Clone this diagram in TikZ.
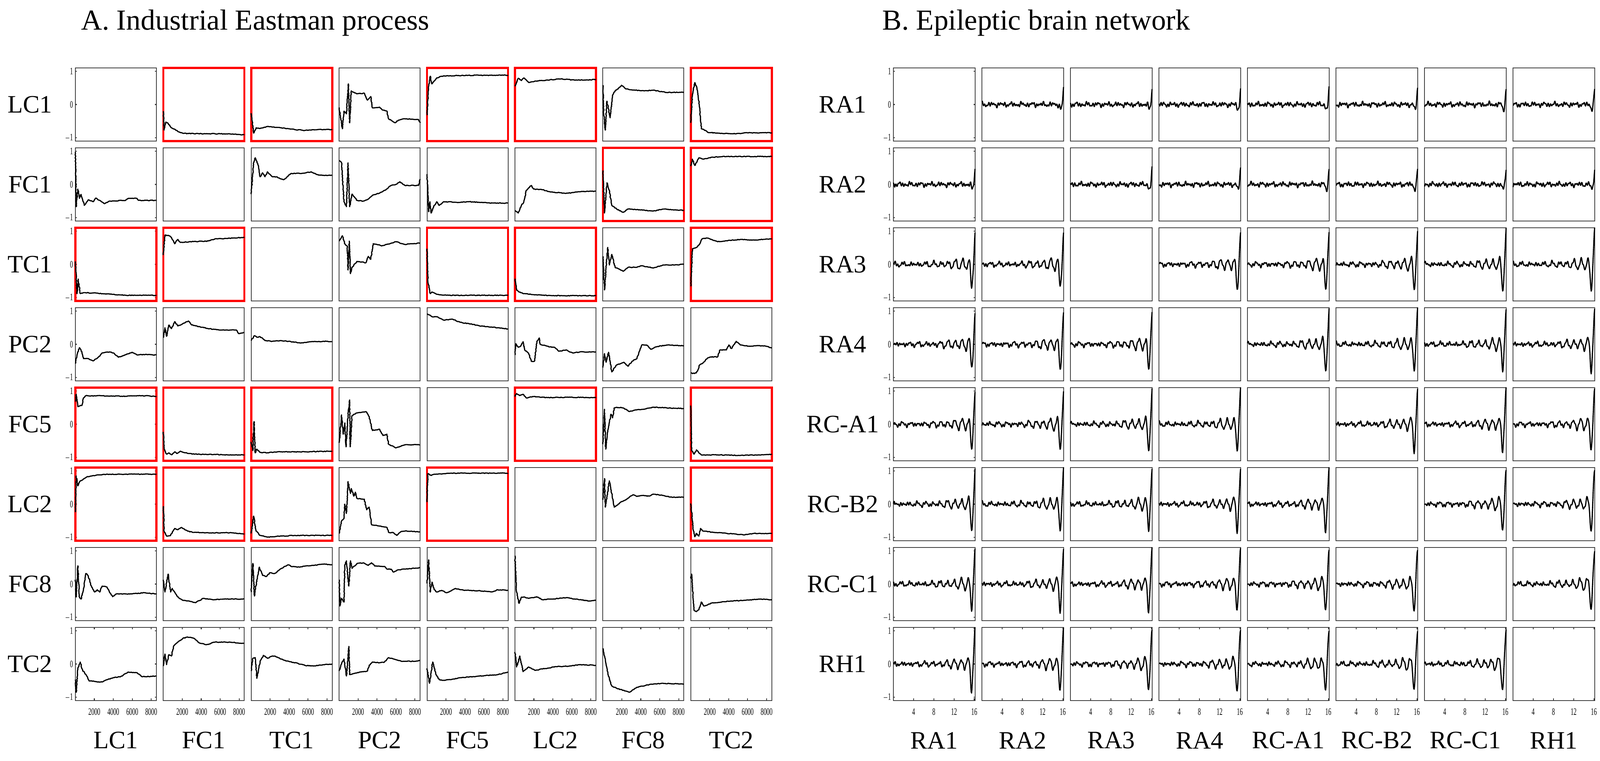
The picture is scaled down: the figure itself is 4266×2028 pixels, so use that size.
\documentclass[tikz,border=0pt]{standalone}
\usepackage{fontspec}
\setmainfont{Liberation Serif}
\usetikzlibrary{decorations.pathmorphing}
\definecolor{boxgray}{HTML}{333333}
\definecolor{redbox}{HTML}{FF0000}
\tikzset{
  box/.style={draw=boxgray,line width=0.6pt},
  redframe/.style={draw=redbox,line width=1.6pt},
  curve/.style={black,line width=0.9pt,line join=round,decorate,decoration={random steps,segment length=0.8pt,amplitude=0.25pt}},
  eegc/.style={black,line width=0.9pt,line join=round},
  lab/.style={font=\fontsize{19}{19}\selectfont},
  ttl/.style={font=\fontsize{22}{22}\selectfont,anchor=base west},
  tick/.style={font=\fontsize{7.5}{8}\selectfont,xscale=0.6,inner sep=0pt},
}
\newcommand\LC[3]{\begin{scope}[shift={(201+234.4*#1,278.5+213*#2)},x=2.16cm,y=0.886cm]
\draw[curve] plot coordinates {#3};\end{scope}}
\newcommand\EEG[3]{\begin{scope}[shift={(2382+236*#1,278.5+213*#2)},x=2.18cm,y=0.886cm]
\draw[eegc] plot[domain=0:1,samples=190,variable=\t] ({\t},{#3});\end{scope}}
\begin{document}
\begin{tikzpicture}[x=0.01cm,y=-0.01cm]
\useasboundingbox (0,0) rectangle (4266,2028);
\node[ttl] (ta) at (204,80) {A. Industrial Eastman process};
\node[ttl] (tb) at (2340,80) {B. Epileptic brain network};
% boxes
\foreach \i in {0,...,7}{\foreach \j in {0,...,7}{
  \draw[box] (201+234.4*\i,181+213*\j) rectangle ++(216,195);
  \draw[box] (2382+236*\i,181+213*\j) rectangle ++(218,195);
}}
% labels
\foreach \n [count=\k from 0] in {LC1,FC1,TC1,PC2,FC5,LC2,FC8,TC2}{
  \node[lab] (rl\k) at (80,278.5+213*\k) {\n};
  \node[lab] (cl\k) at (309+234.4*\k,1973) {\n};
}
\foreach \n [count=\k from 0] in {RA1,RA2,RA3,RA4,RC-A1,RC-B2,RC-C1,RH1}{
  \node[lab] (rr\k) at (2247,278.5+213*\k) {\n};
  \node[lab] (cr\k) at (2491+236*\k,1973) {\n};
}
% y ticks
\foreach \j in {0,...,7}{
  \foreach \v/\t in {1/1,0/0,-1/$-$1}{
    \node[tick,anchor=east] at (195,278.5+213*\j-88.6*\v) {\t};
    \draw[box] (201,278.5+213*\j-88.6*\v) -- ++(4,0);
    \draw[box] (417,278.5+213*\j-88.6*\v) -- ++(-4,0);
    \node[tick,anchor=east] at (2376,278.5+213*\j-88.6*\v) {\t};
    \draw[box] (2382,278.5+213*\j-88.6*\v) -- ++(4,0);
    \draw[box] (2600,278.5+213*\j-88.6*\v) -- ++(-4,0);
  }
}
% x ticks
\foreach \i in {0,...,7}{
  \foreach \t in {2000,4000,6000,8000}{
    \draw[box] (201+234.4*\i+0.025263*\t,1866) -- ++(0,-5);
    \draw[box] (201+234.4*\i+0.025263*\t,1672) -- ++(0,5);
    \node[tick] at (201+234.4*\i+0.025263*\t,1897) {\t};
  }
  \foreach \t in {4,8,12,16}{
    \draw[box] (2382+236*\i+13.47*\t,1866) -- ++(0,-5);
    \draw[box] (2382+236*\i+13.47*\t,1672) -- ++(0,5);
    \node[tick] at (2382+236*\i+13.47*\t,1897) {\t};
  }
}
% red frames
\foreach \i/\j in {1/0,2/0,4/0,5/0,7/0, 6/1,7/1, 0/2,1/2,4/2,5/2,7/2, 0/4,1/4,2/4,5/4,7/4, 0/5,1/5,2/5,4/5,7/5}{
  \draw[redframe] (201+234.4*\i,181+213*\j) rectangle ++(216,195);
}
% ---- left curves ----
% row 0
\LC{1}{0}{(0,-0.2)(0.01,-0.77)(0.03,-0.53)(0.05,-0.55)(0.1,-0.7)(0.2,-0.83)(0.25,-0.87)(0.5,-0.88)(0.75,-0.88)(1,-0.91)}
\LC{2}{0}{(0,-0.26)(0.03,-0.86)(0.06,-0.7)(0.11,-0.72)(0.2,-0.66)(0.37,-0.7)(0.48,-0.74)(0.66,-0.78)(0.83,-0.75)(1,-0.75)}
\LC{3}{0}{(0,-0.09)(0.017,-0.36)(0.04,-0.73)(0.06,-0.2)(0.09,-0.28)(0.114,0.62)(0.13,-0.55)(0.15,0.41)(0.19,0.35)(0.22,0.32)(0.31,0.34)(0.35,0.13)(0.39,0.24)(0.41,-0.1)(0.5,-0.08)(0.54,-0.17)(0.59,-0.2)(0.61,-0.43)(0.69,-0.55)(0.73,-0.47)(0.81,-0.43)(0.98,-0.45)(1,-0.55)}
\LC{4}{0}{(0,-0.32)(0.02,0.55)(0.04,0.85)(0.06,0.62)(0.12,0.8)(0.18,0.85)(0.35,0.87)(0.64,0.88)(1,0.88)}
\LC{5}{0}{(0,0.55)(0.04,0.79)(0.08,0.72)(0.11,0.8)(0.17,0.66)(0.28,0.71)(0.57,0.77)(0.74,0.73)(1,0.75)}
\LC{6}{0}{(0,0.58)(0.01,-0.28)(0.03,-0.77)(0.05,0.1)(0.09,-0.4)(0.12,0.28)(0.15,0.41)(0.19,0.47)(0.23,0.58)(0.28,0.47)(0.4,0.43)(0.51,0.41)(0.62,0.43)(0.79,0.36)(1,0.37)}
\LC{7}{0}{(0,-0.55)(0.02,0.28)(0.05,0.66)(0.07,0.55)(0.1,0.1)(0.13,-0.73)(0.16,-0.75)(0.21,-0.84)(0.33,-0.86)(0.56,-0.88)(0.67,-0.85)(1,-0.85)}
% row 1
\LC{0}{1}{(0,0.98)(0.01,-0.67)(0.03,-0.14)(0.05,-0.42)(0.07,-0.3)(0.11,-0.63)(0.16,-0.46)(0.22,-0.52)(0.25,-0.41)(0.3,-0.48)(0.36,-0.58)(0.42,-0.5)(0.62,-0.48)(0.65,-0.42)(0.76,-0.42)(0.78,-0.48)(1,-0.48)}
\LC{2}{1}{(0,-0.29)(0.03,0.65)(0.05,0.8)(0.09,0.54)(0.11,0.23)(0.14,0.35)(0.17,0.23)(0.2,0.38)(0.26,0.23)(0.31,0.23)(0.4,0.14)(0.49,0.33)(0.6,0.33)(0.74,0.38)(0.83,0.28)(1,0.27)}
\LC{3}{1}{(0,0.72)(0.03,0.65)(0.06,-0.52)(0.09,-0.67)(0.11,0.65)(0.13,-0.67)(0.16,-0.29)(0.22,-0.48)(0.3,-0.5)(0.36,-0.44)(0.41,-0.33)(0.5,-0.26)(0.58,-0.15)(0.64,-0.03)(0.7,0.0)(0.75,0.08)(0.81,-0.03)(0.98,-0.03)(1,0.16)}
\LC{4}{1}{(0,0.31)(0.02,-0.82)(0.035,-0.52)(0.05,-0.86)(0.09,-0.63)(0.12,-0.52)(0.15,-0.63)(0.21,-0.52)(0.41,-0.54)(0.52,-0.52)(0.8,-0.56)(1,-0.56)}
\LC{5}{1}{(0,-0.78)(0.04,-0.86)(0.08,-0.63)(0.11,-0.52)(0.14,-0.18)(0.2,-0.03)(0.23,-0.14)(0.34,-0.16)(0.43,-0.22)(0.63,-0.27)(0.8,-0.22)(1,-0.2)}
\LC{6}{1}{(0,0.42)(0.02,-0.86)(0.05,0.05)(0.08,-0.18)(0.11,-0.63)(0.17,-0.74)(0.25,-0.84)(0.31,-0.74)(0.45,-0.76)(0.62,-0.8)(0.74,-0.74)(1,-0.78)}
\LC{7}{1}{(0,0.55)(0.02,0.76)(0.05,0.57)(0.1,0.8)(0.15,0.76)(0.27,0.82)(0.44,0.84)(1,0.84)}
% row 2
\LC{0}{2}{(0,0.09)(0.02,-0.88)(0.035,-0.44)(0.06,-0.88)(0.1,-0.85)(0.22,-0.86)(0.45,-0.9)(0.62,-0.93)(1,-0.93)}
\LC{1}{2}{(0,0.28)(0.02,0.88)(0.07,0.86)(0.1,0.81)(0.14,0.62)(0.18,0.75)(0.21,0.66)(0.32,0.68)(0.55,0.7)(0.64,0.77)(0.78,0.78)(1,0.81)}
\LC{3}{2}{(0,0.7)(0.04,0.86)(0.07,0.62)(0.1,0.55)(0.11,-0.17)(0.125,0.7)(0.14,-0.28)(0.16,-0.09)(0.22,0.09)(0.33,0.05)(0.36,0.24)(0.39,0.15)(0.42,0.62)(0.53,0.56)(0.59,0.6)(0.7,0.68)(0.81,0.6)(1,0.64)}
\LC{4}{2}{(0,0.47)(0.01,-0.5)(0.04,-0.88)(0.06,-0.83)(0.12,-0.9)(0.24,-0.93)(1,-0.93)}
\LC{5}{2}{(0,-0.43)(0.02,-0.77)(0.05,-0.83)(0.11,-0.88)(0.23,-0.91)(0.45,-0.94)(1,-0.94)}
\LC{6}{2}{(0,0.24)(0.02,-0.77)(0.04,-0.09)(0.06,0.51)(0.08,-0.02)(0.11,0.3)(0.15,-0.09)(0.19,-0.13)(0.25,-0.21)(0.31,-0.09)(0.4,-0.09)(0.48,-0.04)(0.62,-0.11)(0.74,-0.02)(0.85,-0.02)(1,0.0)}
\LC{7}{2}{(0,-0.66)(0.02,0.47)(0.07,0.51)(0.1,0.58)(0.14,0.77)(0.21,0.79)(0.33,0.68)(0.44,0.71)(0.61,0.75)(0.78,0.73)(1,0.77)}
% row 3
\LC{0}{3}{(0,-0.58)(0.02,-0.32)(0.05,-0.1)(0.07,-0.17)(0.1,-0.43)(0.16,-0.43)(0.22,-0.5)(0.3,-0.36)(0.33,-0.26)(0.42,-0.23)(0.47,-0.26)(0.53,-0.39)(0.59,-0.34)(0.7,-0.24)(0.76,-0.32)(0.87,-0.3)(1,-0.32)}
\LC{1}{3}{(0,0.2)(0.02,0.5)(0.04,0.24)(0.07,0.58)(0.1,0.47)(0.14,0.68)(0.18,0.55)(0.24,0.62)(0.31,0.7)(0.35,0.58)(0.5,0.5)(0.61,0.45)(0.73,0.43)(0.9,0.43)(0.93,0.32)(1,0.36)}
\LC{2}{3}{(0,0.11)(0.04,0.26)(0.07,0.21)(0.11,0.23)(0.17,0.11)(0.26,0.09)(0.37,0.11)(0.49,0.08)(0.6,0.04)(0.77,0.08)(0.94,0.09)(1,0.08)}
\LC{4}{3}{(0,0.92)(0.06,0.83)(0.12,0.83)(0.2,0.73)(0.32,0.75)(0.41,0.66)(0.52,0.62)(0.64,0.56)(0.81,0.51)(0.92,0.49)(1,0.46)}
\LC{5}{3}{(0,-0.32)(0.01,0.02)(0.04,-0.09)(0.07,-0.06)(0.1,0.08)(0.12,-0.17)(0.17,-0.28)(0.2,-0.51)(0.24,-0.51)(0.27,0.09)(0.3,0.19)(0.31,0.0)(0.43,-0.08)(0.49,-0.09)(0.54,-0.21)(0.63,-0.17)(0.71,-0.26)(0.8,-0.23)(1,-0.23)}
\LC{6}{3}{(0,-0.7)(0.02,-0.28)(0.04,-0.54)(0.07,-0.24)(0.11,-0.83)(0.17,-0.62)(0.22,-0.58)(0.26,-0.54)(0.31,-0.66)(0.36,-0.51)(0.42,-0.43)(0.48,-0.02)(0.54,-0.02)(0.59,-0.15)(0.65,-0.08)(0.79,-0.02)(1,-0.04)}
\LC{7}{3}{(0,-0.85)(0.02,-0.88)(0.07,-0.86)(0.11,-0.62)(0.15,-0.56)(0.2,-0.43)(0.24,-0.38)(0.33,-0.38)(0.36,-0.17)(0.44,-0.17)(0.47,-0.02)(0.5,-0.13)(0.56,0.09)(0.61,-0.02)(0.73,-0.06)(0.84,-0.04)(0.93,-0.06)(1,-0.11)}
% row 4
\LC{0}{4}{(0,0.68)(0.01,0.9)(0.03,0.53)(0.06,0.56)(0.08,0.56)(0.1,0.79)(0.13,0.86)(0.19,0.85)(0.27,0.86)(0.39,0.85)(0.62,0.84)(0.87,0.86)(1,0.83)}
\LC{1}{4}{(0,-0.23)(0.01,-0.75)(0.04,-0.9)(0.07,-0.86)(0.1,-0.92)(0.14,-0.83)(0.17,-0.88)(0.21,-0.81)(0.27,-0.86)(0.38,-0.9)(0.62,-0.91)(0.79,-0.92)(1,-0.92)}
\LC{2}{4}{(0,-0.53)(0.02,-0.79)(0.035,0.08)(0.05,-0.86)(0.07,-0.75)(0.11,-0.85)(0.2,-0.86)(0.32,-0.83)(0.66,-0.83)(1,-0.81)}
\LC{3}{4}{(0,-0.56)(0.03,0.28)(0.05,-0.3)(0.07,0.04)(0.085,-0.68)(0.11,0.26)(0.13,0.73)(0.136,-0.68)(0.16,0.26)(0.22,0.34)(0.33,0.38)(0.37,0.23)(0.41,-0.19)(0.5,-0.15)(0.54,-0.34)(0.59,-0.3)(0.61,-0.6)(0.7,-0.71)(0.81,-0.62)(1,-0.62)}
\LC{5}{4}{(0,0.83)(0.02,0.92)(0.06,0.86)(0.1,0.9)(0.14,0.79)(0.23,0.83)(0.4,0.8)(0.68,0.81)(1,0.8)}
\LC{6}{4}{(0,-0.6)(0.02,0.45)(0.035,-0.75)(0.06,-0.19)(0.1,0.3)(0.12,0.19)(0.14,0.49)(0.17,0.51)(0.25,0.49)(0.33,0.38)(0.4,0.43)(0.51,0.45)(0.62,0.51)(0.79,0.49)(1,0.47)}
\LC{7}{4}{(0,0.56)(0.01,-0.79)(0.04,-0.9)(0.07,-0.77)(0.1,-0.86)(0.14,-0.93)(0.33,-0.92)(0.61,-0.94)(0.84,-0.92)(1,-0.9)}
% row 5
\LC{0}{5}{(0,-0.24)(0.01,0.85)(0.03,0.55)(0.06,0.7)(0.09,0.73)(0.11,0.77)(0.15,0.83)(0.22,0.86)(0.33,0.89)(0.62,0.9)(1,0.9)}
\LC{1}{5}{(0,-0.06)(0.01,-0.81)(0.04,-0.96)(0.09,-0.94)(0.14,-0.73)(0.18,-0.77)(0.22,-0.7)(0.3,-0.81)(0.38,-0.85)(0.61,-0.86)(0.84,-0.86)(1,-0.9)}
\LC{2}{5}{(0,-0.88)(0.03,-0.36)(0.06,-0.81)(0.11,-0.94)(0.2,-0.99)(0.31,-0.97)(0.54,-0.94)(0.77,-0.94)(1,-0.94)}
\LC{3}{5}{(0,-0.88)(0.03,-0.51)(0.06,-0.43)(0.07,0.0)(0.09,-0.28)(0.11,0.68)(0.14,0.32)(0.15,0.47)(0.18,0.24)(0.2,0.36)(0.22,0.17)(0.31,0.15)(0.34,-0.17)(0.37,-0.09)(0.4,-0.62)(0.5,-0.66)(0.59,-0.7)(0.61,-0.85)(0.67,-0.86)(0.71,-0.94)(0.76,-0.83)(0.81,-0.81)(1,-0.83)}
\LC{4}{5}{(0,0.06)(0.01,0.92)(0.05,0.86)(0.09,0.9)(0.29,0.93)(1,0.93)}
\LC{6}{5}{(0,0.13)(0.02,0.77)(0.03,-0.09)(0.05,0.21)(0.08,0.7)(0.11,0.32)(0.14,-0.09)(0.17,-0.04)(0.22,0.06)(0.28,0.13)(0.37,0.28)(0.42,0.23)(0.48,0.26)(0.57,0.24)(0.62,0.3)(0.74,0.26)(0.85,0.21)(1,0.21)}
\LC{7}{5}{(0,0.02)(0.03,-0.77)(0.05,-0.98)(0.07,-0.88)(0.1,-0.96)(0.12,-0.73)(0.15,-0.81)(0.21,-0.83)(0.33,-0.86)(0.56,-0.9)(0.67,-0.92)(0.78,-0.88)(1,-0.88)}
% row 6
\LC{0}{6}{(0,0.13)(0.01,-0.39)(0.03,0.55)(0.05,-0.39)(0.07,-0.45)(0.1,-0.17)(0.13,0.32)(0.16,0.24)(0.2,-0.09)(0.24,-0.24)(0.27,-0.17)(0.3,-0.24)(0.33,-0.06)(0.39,-0.09)(0.42,-0.24)(0.46,-0.38)(0.5,-0.3)(0.67,-0.3)(0.85,-0.26)(1,-0.3)}
\LC{1}{6}{(0,0.13)(0.02,-0.24)(0.06,0.3)(0.09,-0.24)(0.11,-0.13)(0.14,-0.24)(0.18,-0.39)(0.24,-0.49)(0.32,-0.51)(0.4,-0.56)(0.49,-0.43)(0.61,-0.47)(0.78,-0.45)(1,-0.45)}
\LC{2}{6}{(0,-0.24)(0.02,0.62)(0.04,-0.36)(0.07,0.13)(0.1,0.51)(0.14,0.26)(0.19,0.23)(0.23,0.34)(0.29,0.32)(0.34,0.41)(0.4,0.51)(0.46,0.58)(0.49,0.53)(0.6,0.51)(0.69,0.55)(0.77,0.56)(0.89,0.6)(1,0.58)}
\LC{3}{6}{(0,0.13)(0.01,-0.66)(0.03,-0.43)(0.06,-0.54)(0.07,0.58)(0.09,0.7)(0.12,-0.06)(0.14,0.7)(0.16,0.47)(0.22,0.62)(0.3,0.64)(0.36,0.56)(0.4,0.64)(0.44,0.54)(0.56,0.53)(0.59,0.45)(0.64,0.45)(0.67,0.36)(0.73,0.43)(0.81,0.45)(1,0.49)}
\LC{4}{6}{(0,0.02)(0.02,0.73)(0.04,-0.24)(0.06,0.06)(0.09,-0.17)(0.12,-0.24)(0.18,-0.19)(0.24,-0.26)(0.29,-0.21)(0.35,-0.13)(0.41,-0.17)(0.46,-0.19)(0.63,-0.2)(0.81,-0.23)(0.87,-0.17)(1,-0.19)}
\LC{5}{6}{(0,0.85)(0.02,-0.24)(0.05,-0.58)(0.08,-0.39)(0.12,-0.39)(0.17,-0.43)(0.27,-0.38)(0.34,-0.47)(0.45,-0.45)(0.63,-0.41)(0.8,-0.47)(0.92,-0.51)(1,-0.49)}
\LC{7}{6}{(0,0.17)(0.01,0.3)(0.04,-0.79)(0.07,-0.83)(0.1,-0.77)(0.13,-0.54)(0.16,-0.66)(0.21,-0.62)(0.27,-0.56)(0.38,-0.54)(0.5,-0.51)(0.67,-0.49)(0.84,-0.45)(1,-0.47)}
% row 7
\LC{0}{7}{(0,-0.47)(0.01,-0.85)(0.03,-0.13)(0.06,0.06)(0.09,-0.21)(0.11,-0.24)(0.14,-0.36)(0.17,-0.51)(0.22,-0.51)(0.27,-0.54)(0.33,-0.54)(0.39,-0.47)(0.47,-0.41)(0.56,-0.38)(0.65,-0.24)(0.76,-0.26)(0.82,-0.38)(0.87,-0.38)(1,-0.36)}
\LC{1}{7}{(0,-0.06)(0.02,0.3)(0.04,-0.02)(0.07,0.28)(0.1,0.24)(0.13,0.55)(0.18,0.66)(0.24,0.77)(0.3,0.81)(0.38,0.77)(0.44,0.64)(0.53,0.58)(0.64,0.66)(0.84,0.65)(1,0.62)}
\LC{2}{7}{(0,-0.21)(0.02,0.17)(0.05,0.19)(0.07,-0.43)(0.11,0.09)(0.15,0.26)(0.2,0.17)(0.25,0.23)(0.29,0.24)(0.31,0.21)(0.37,0.15)(0.43,0.09)(0.54,0.04)(0.66,-0.04)(0.77,-0.06)(0.89,-0.02)(1,0.0)}
\LC{3}{7}{(0,-0.21)(0.03,0.02)(0.06,0.15)(0.09,-0.36)(0.12,0.53)(0.13,-0.32)(0.19,-0.28)(0.27,-0.24)(0.35,-0.21)(0.37,-0.04)(0.41,0.06)(0.5,0.04)(0.56,0.06)(0.61,0.19)(0.7,0.13)(0.76,0.09)(0.81,0.08)(0.93,0.08)(1,0.11)}
\LC{4}{7}{(0,-0.13)(0.03,-0.58)(0.07,0.06)(0.11,-0.32)(0.15,-0.47)(0.21,-0.49)(0.29,-0.47)(0.41,-0.41)(0.58,-0.38)(0.75,-0.34)(0.87,-0.32)(1,-0.24)}
\LC{5}{7}{(0,0.36)(0.02,-0.09)(0.06,0.24)(0.1,-0.23)(0.17,-0.09)(0.25,-0.19)(0.34,-0.15)(0.51,-0.08)(0.69,-0.06)(0.8,-0.02)(1,-0.04)}
\LC{6}{7}{(0,0.47)(0.04,-0.02)(0.08,-0.47)(0.11,-0.66)(0.17,-0.73)(0.33,-0.85)(0.42,-0.7)(0.57,-0.62)(0.74,-0.58)(1,-0.6)}
% ---- right curves ----
\foreach \j in {0,...,7}{\foreach \i in {0,...,7}{
  \ifnum\i=\j\else
    \pgfmathsetmacro\s{37*\i+71*\j}
    \ifnum\j<2
      \EEG{\i}{\j}{0.035*sin(13000*\t+\s)+0.025*sin(9100*\t+2*\s)+0.03*sin(2900*\t+3*\s)+0.02*sin(5300*\t+\s)-0.15*exp(max(-20,-((\t-0.965)/0.015)^2))+0.5*exp(max(-20,-((\t-1)/0.012)^2))}
    \else
      \EEG{\i}{\j}{0.03*sin(13000*\t+\s)+0.025*sin(9100*\t+2*\s)+0.025*sin(2900*\t+3*\s)+(0.03+0.2*\t*\t*\t)*sin(3600*\t*(1+0.1*\t)+\s*0.2)-0.62*exp(max(-20,-((\t-0.955)/0.016)^2))+0.85*exp(max(-20,-((\t-1)/0.018)^2))}
    \fi
  \fi
}}
\end{tikzpicture}
\end{document}
